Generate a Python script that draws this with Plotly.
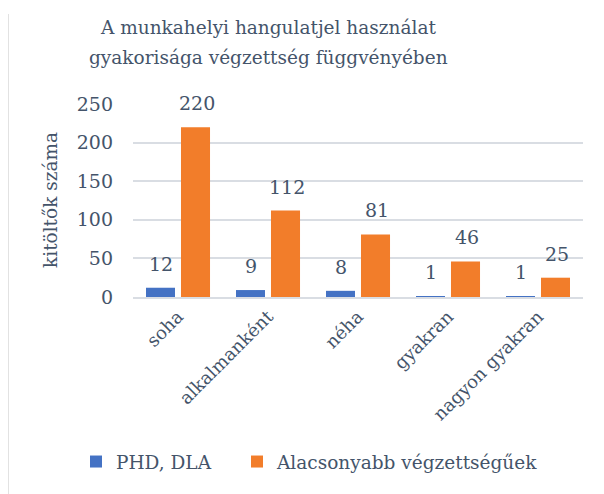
import plotly.graph_objects as go

categories = ["soha", "alkalmanként", "néha", "gyakran", "nagyon gyakran"]
phd_values = [12, 9, 8, 1, 1]
lower_values = [220, 112, 81, 46, 25]
series_names = ["PHD, DLA", "Alacsonyabb végzettségűek"]
y_ticks = [0, 50, 100, 150, 200, 250]
title_lines = ["A munkahelyi hangulatjel használat",
               "gyakorisága végzettség függvényében"]
y_title = "kitöltők száma"

FONT = "DejaVu Serif"
TXT = "#44546A"
BLUE = "#4472C4"
ORANGE = "#F27D2A"
FS = 18.5

OFF = 8  # page body margin
W, H = 604 - OFF, 494 - OFF
L, R, T, B = 133 - OFF, 21, 104 - OFF, H - (297 - OFF)
PW, PH = W - L - R, H - T - B


def px_x(x):
    return (x - OFF - L) / PW


def px_y(y):
    return (H - B - (y - OFF)) / PH


fig = go.Figure()
fig.add_trace(go.Bar(x=categories, y=phd_values, name=series_names[0],
                     marker=dict(color=BLUE, line=dict(width=0)), legend="legend"))
fig.add_trace(go.Bar(x=categories, y=lower_values, name=series_names[1],
                     marker=dict(color=ORANGE, line=dict(width=0)), legend="legend2"))

annotations = []
for vals, shift in ((phd_values, -17.5), (lower_values, 18.5)):
    for c, v in zip(categories, vals):
        annotations.append(dict(x=c, y=v, text=str(v), xref="x", yref="y",
                                showarrow=False, xshift=shift, yshift=24,
                                yanchor="middle",
                                font=dict(family=FONT, size=19, color=TXT)))
for line, ypx in zip(title_lines, (28, 57)):
    annotations.append(dict(text=line, xref="paper", yref="paper",
                            x=px_x(268), y=px_y(ypx), xanchor="center",
                            yanchor="middle", showarrow=False,
                            font=dict(family=FONT, size=FS, color=TXT)))
annotations.append(dict(text=y_title, xref="paper", yref="paper",
                        x=px_x(50), y=px_y(200), xanchor="center",
                        yanchor="middle", showarrow=False, textangle=-90,
                        font=dict(family=FONT, size=FS, color=TXT)))

legend_common = dict(orientation="h", xanchor="left", yanchor="middle",
                     y=px_y(462), font=dict(family=FONT, size=FS, color=TXT),
                     bgcolor="rgba(0,0,0,0)")

fig.update_layout(
    width=W, height=H,
    margin=dict(l=L, r=R, t=T, b=B, autoexpand=False),
    paper_bgcolor="white", plot_bgcolor="white",
    font=dict(family=FONT, size=FS, color=TXT),
    barmode="group", bargap=0.222, bargroupgap=0.171,
    xaxis=dict(tickangle=-45, showgrid=False, showline=True, linecolor="#D9DDE3",
               linewidth=2, ticks="", automargin=False,
               tickfont=dict(family=FONT, size=18, color=TXT)),
    yaxis=dict(range=[0, 250], tickvals=y_ticks, showgrid=True, gridcolor="#D9DDE3",
               gridwidth=2, zeroline=False, showline=False, ticks="", automargin=False,
               ticklabelstandoff=19,
               tickfont=dict(family=FONT, size=19, color=TXT)),
    legend=dict(x=px_x(76), **legend_common),
    legend2=dict(x=px_x(237), **legend_common),
    annotations=annotations,
    shapes=[dict(type="line", xref="paper", yref="paper",
                 x0=px_x(8), x1=px_x(8),
                 y0=px_y(14), y1=px_y(494),
                 line=dict(color="#D9D9D9", width=1.5))],
    showlegend=True,
)

fig.write_html("out.html")
